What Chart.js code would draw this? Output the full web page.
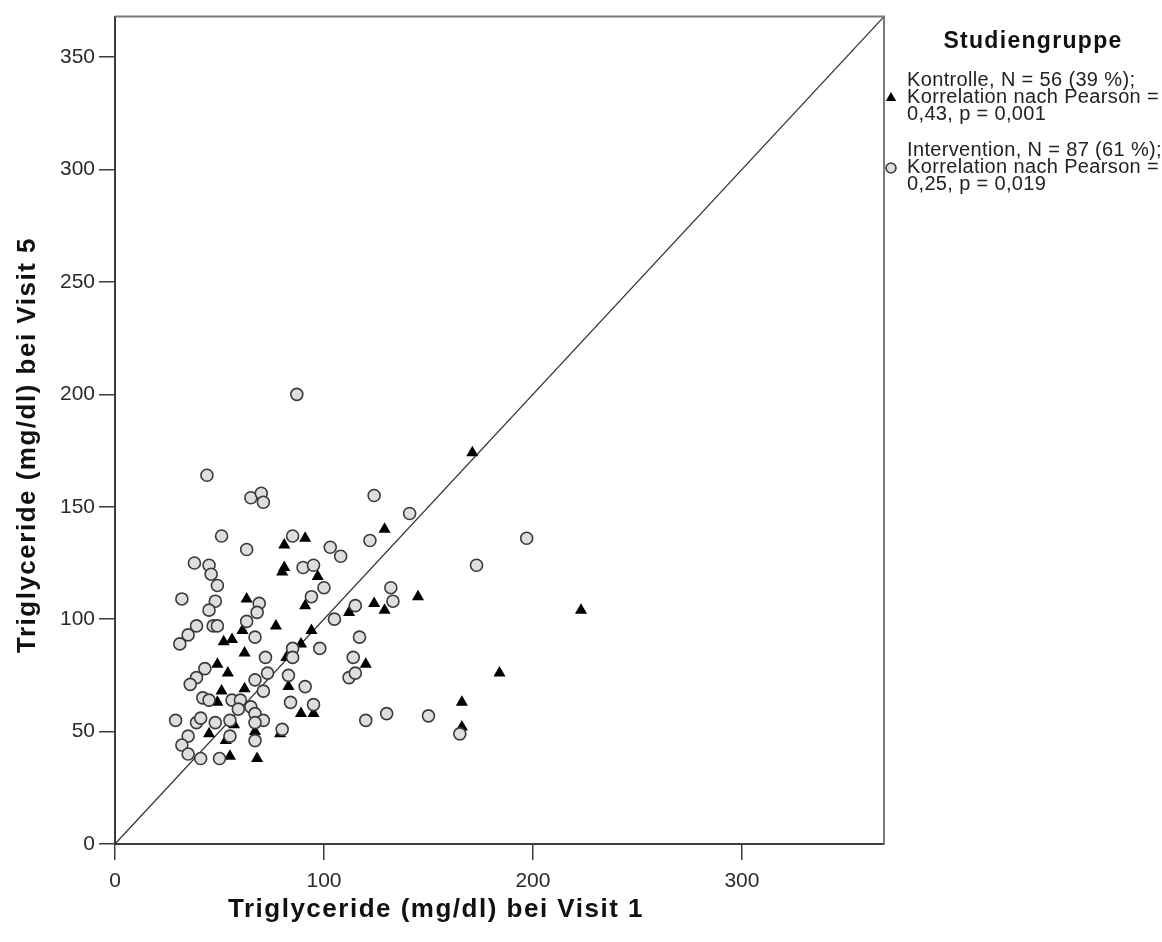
<!DOCTYPE html>
<html>
<head>
<meta charset="utf-8">
<script src="https://cdn.jsdelivr.net/npm/chart.js@4.4.1/dist/chart.umd.min.js"></script>
<style>
  html, body { margin: 0; padding: 0; background: #fff; }
  #wrap { width: 1162px; height: 942px; }
</style>
</head>
<body>
<div id="wrap"><canvas id="scatter" width="1162" height="942"></canvas></div>
<script>
// Triglyceride Visit 1 vs Visit 5, by study group

const kontrolleX = [81, 91, 81, 80, 97, 63, 61, 77, 91, 112, 52, 56, 62, 94, 89, 82, 49, 54, 83, 62,
  51, 49, 89, 95, 57, 45, 53, 67, 79, 55, 68, 129, 145, 124, 129, 120, 166, 166, 171, 223, 184];
const kontrolleY = [133, 136, 123, 121, 119, 109, 95, 97, 106, 103, 90, 91, 85, 95, 89, 83, 80, 76, 70, 69,
  68, 63, 58, 58, 53, 49, 46, 50, 49, 39, 38, 140, 110, 107, 104, 80, 63, 52, 174, 104, 76];

const interventionX = [87, 44, 65, 70, 71, 51, 85, 63, 103, 108, 38, 45, 46, 49, 90, 95, 100, 32, 48, 45,
  47, 49, 39, 35, 31, 69, 68, 63, 94, 105, 67, 98, 85, 85, 72, 43, 39, 36, 67, 73,
  83, 91, 71, 42, 45, 56, 60, 59, 65, 67, 84, 95, 29, 39, 41, 48, 55, 71, 67, 35,
  32, 35, 41, 55, 67, 80, 50, 122, 173, 132, 133, 115, 117, 114, 112, 115, 120, 130, 150, 165,
  141, 197, 124];
const interventionY = [200, 164, 154, 156, 152, 137, 137, 131, 132, 128, 125, 124, 120, 115, 123, 124, 114, 109, 108, 104,
  97, 97, 97, 93, 89, 107, 103, 99, 110, 100, 92, 87, 87, 83, 83, 78, 74, 71, 73, 76,
  75, 70, 68, 65, 64, 64, 64, 60, 61, 58, 63, 62, 55, 54, 56, 54, 55, 55, 54, 48,
  44, 40, 38, 48, 46, 51, 38, 135, 124, 114, 108, 106, 92, 83, 74, 76, 55, 58, 57, 49,
  147, 136, 155];

// reference line y = x
const diagonalX = [0, 368];
const diagonalY = [0, 368];

const xTicks = [0, 100, 200, 300];
const yTicks = [0, 50, 100, 150, 200, 250, 300, 350];
const axisMax = 368;

const xTitle = 'Triglyceride (mg/dl) bei Visit 1';
const yTitle = 'Triglyceride (mg/dl) bei Visit 5';
const legendTitle = 'Studiengruppe';
const kontrolleLabel = ['Kontrolle, N = 56 (39 %);', 'Korrelation nach Pearson =', '0,43, p = 0,001'];
const interventionLabel = ['Intervention, N = 87 (61 %);', 'Korrelation nach Pearson =', '0,25, p = 0,019'];

const FONT = '"Liberation Sans", Arial, sans-serif';

function toPoints(xs, ys) {
  return xs.map((x, i) => ({ x, y: ys[i] }));
}

function spacedText(ctx, text, x, y, spacing) {
  if ('letterSpacing' in ctx) ctx.letterSpacing = spacing + 'px';
  ctx.fillText(text, x, y);
  if ('letterSpacing' in ctx) ctx.letterSpacing = '0px';
}

// frame on top/right, axis titles and the group legend
const chartDecor = {
  id: 'chartDecor',
  afterDraw(chart) {
    const ctx = chart.ctx;
    const area = chart.chartArea;
    ctx.save();
    ctx.strokeStyle = '#7a7a7a';
    ctx.lineWidth = 2;
    ctx.beginPath();
    ctx.moveTo(area.left, area.top);
    ctx.lineTo(area.right, area.top);
    ctx.lineTo(area.right, area.bottom);
    ctx.stroke();

    // axis titles
    ctx.fillStyle = '#111';
    ctx.font = 'bold 26px ' + FONT;
    ctx.textAlign = 'center';
    ctx.textBaseline = 'middle';
    spacedText(ctx, xTitle, 436, 910, 1.5);
    ctx.save();
    ctx.translate(28, 445);
    ctx.rotate(-Math.PI / 2);
    spacedText(ctx, yTitle, 0, 0, 1.5);
    ctx.restore();

    // legend
    ctx.font = 'bold 23px ' + FONT;
    spacedText(ctx, legendTitle, 1033, 42, 1.3);

    const items = [
      { lines: kontrolleLabel, ds: chart.data.datasets[1], top: 80, r: 6 },
      { lines: interventionLabel, ds: chart.data.datasets[0], top: 150, r: 5 },
    ];
    items.forEach((item) => {
      ctx.font = '20px ' + FONT;
      ctx.textAlign = 'left';
      ctx.fillStyle = '#222';
      item.lines.forEach((line, i) => spacedText(ctx, line, 907, item.top + i * 17, 0.35));
      ctx.fillStyle = item.ds.backgroundColor;
      ctx.strokeStyle = item.ds.borderColor;
      ctx.lineWidth = item.ds.borderWidth;
      Chart.helpers.drawPoint(ctx, {
        pointStyle: item.ds.pointStyle,
        radius: item.r,
        rotation: 0,
        borderWidth: item.ds.borderWidth,
      }, 891, item.top + 18);
    });
    ctx.restore();
  },
};

const axisStyle = {
  border: { display: true, color: '#3c3c3c', width: 2 },
  grid: { drawOnChartArea: false, drawTicks: true, tickLength: 16, color: '#3c3c3c', lineWidth: 1.5 },
};

const config = {
  type: 'scatter',
  data: {
    datasets: [
      {
        label: 'Intervention',
        data: toPoints(interventionX, interventionY),
        pointStyle: 'circle',
        pointRadius: 6,
        backgroundColor: '#dedede',
        borderColor: '#3a3a3a',
        borderWidth: 1.6,
        order: 1,
      },
      {
        label: 'Kontrolle',
        data: toPoints(kontrolleX, kontrolleY),
        pointStyle: 'triangle',
        pointRadius: 7,
        backgroundColor: '#000',
        borderColor: '#000',
        borderWidth: 0,
        order: 2,
      },
      {
        type: 'line',
        label: 'Diagonale',
        data: toPoints(diagonalX, diagonalY),
        borderColor: '#333',
        borderWidth: 1.3,
        pointRadius: 0,
        fill: false,
        order: 3,
      },
    ],
  },
  options: {
    responsive: false,
    animation: false,
    devicePixelRatio: 1,
    layout: { padding: { top: 15, right: 278, left: 0, bottom: 0 } },
    scales: {
      x: {
        type: 'linear',
        min: 0,
        max: axisMax,
        afterBuildTicks: (scale) => { scale.ticks = xTicks.map((v) => ({ value: v })); },
        afterFit: (scale) => { scale.height = 98; },
        ...axisStyle,
        ticks: { font: { family: FONT, size: 21 }, color: '#2a2a2a', padding: 9, maxRotation: 0 },
      },
      y: {
        type: 'linear',
        min: 0,
        max: axisMax,
        afterBuildTicks: (scale) => { scale.ticks = yTicks.map((v) => ({ value: v })); },
        afterFit: (scale) => { scale.width = 115; },
        ...axisStyle,
        ticks: { font: { family: FONT, size: 21 }, color: '#2a2a2a', padding: 4 },
      },
    },
    plugins: {
      legend: { display: false },
      tooltip: { enabled: false },
    },
  },
  plugins: [chartDecor],
};

new Chart(document.getElementById('scatter'), config);
</script>
</body>
</html>
